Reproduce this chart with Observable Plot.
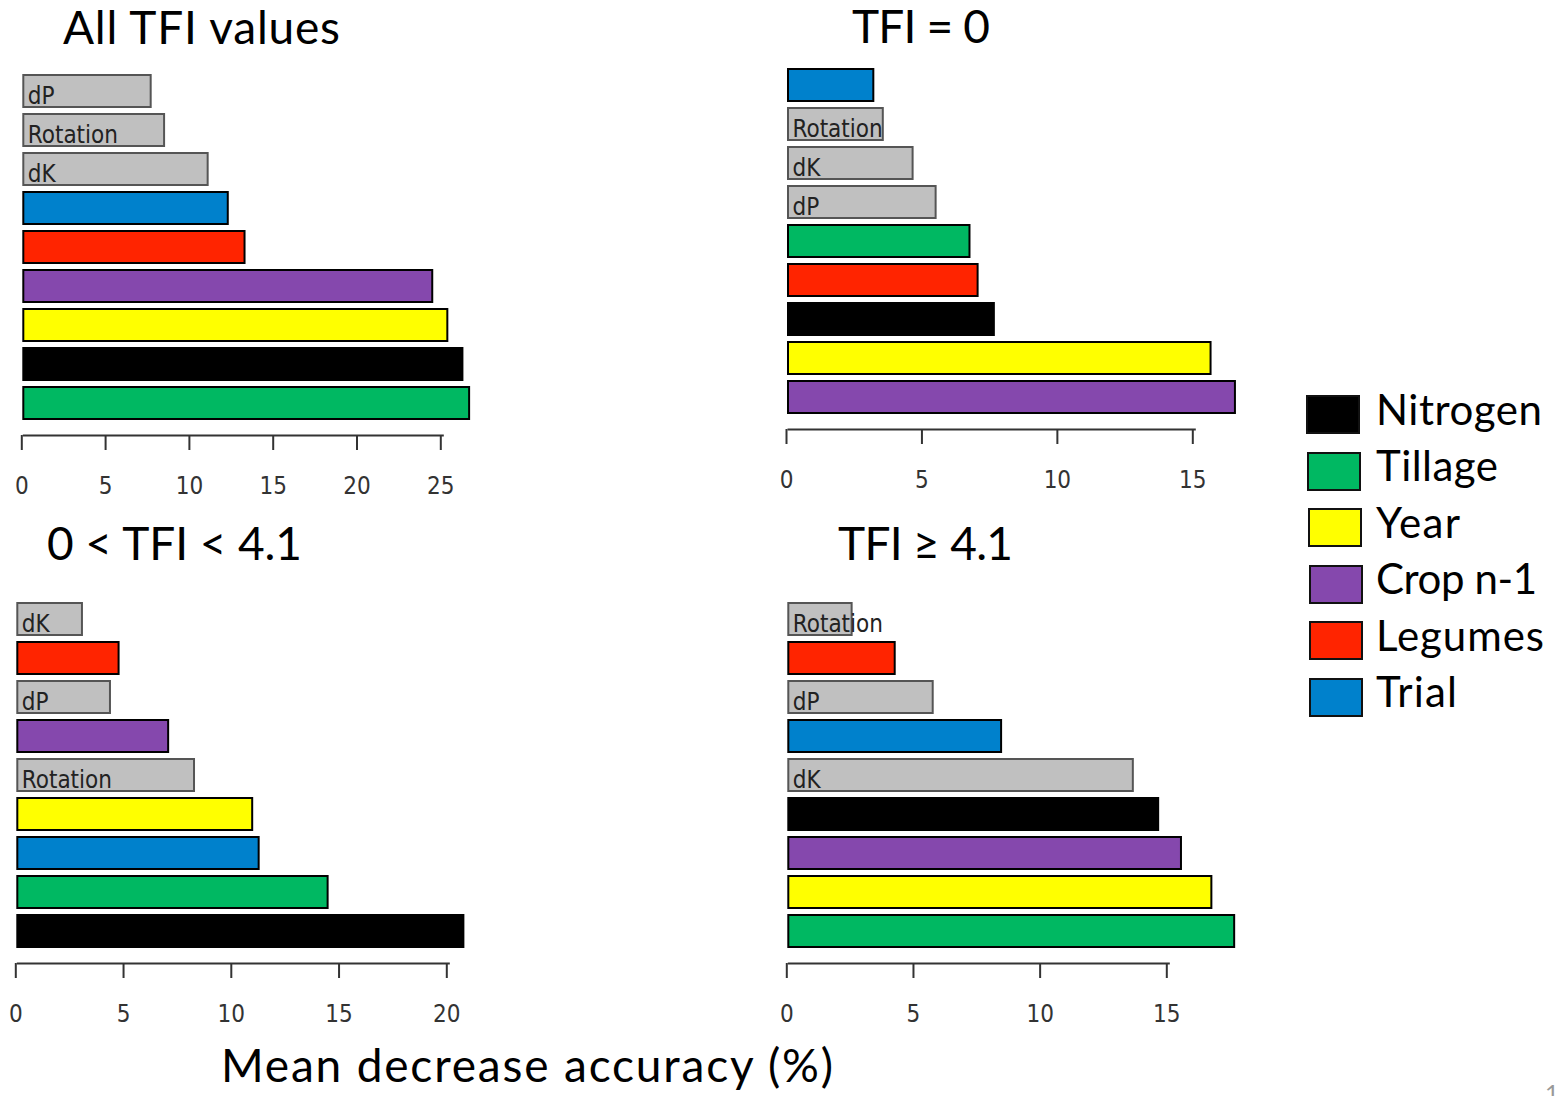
<!DOCTYPE html>
<html>
<head>
<meta charset="utf-8">
<script src="https://cdn.jsdelivr.net/npm/d3@7"></script>
<script src="https://cdn.jsdelivr.net/npm/@observablehq/plot@0.6"></script>
<style>
  body { margin: 0; background: #fff; }
  #root { position: relative; width: 1557px; height: 1096px; overflow: hidden; font-family: Lato, "Open Sans", sans-serif; }
  .txt { position: absolute; white-space: nowrap; line-height: 1; color: #000; }
  .panel { position: absolute; }
  .swatch { position: absolute; box-sizing: border-box; border: 2px solid #111; }
</style>
</head>
<body>
<div id="root"></div>
<script>
// ---------------- data ----------------
const variables = ["Nitrogen", "Tillage", "Year", "Crop n-1", "Legumes", "Trial", "dK", "dP", "Rotation"];
const varColors = ["#000000", "#00b862", "#ffff00", "#8548ad", "#ff2400", "#0081cc", "#c0c0c0", "#c0c0c0", "#c0c0c0"];
const legendVariables = ["Nitrogen", "Tillage", "Year", "Crop n-1", "Legumes", "Trial"];
const grayVariables = ["dK", "dP", "Rotation"];

// values in the order of `variables`
const allTfiValues  = [26.2, 26.6, 25.3, 24.4, 13.2, 12.2, 11.0, 7.6, 8.4];
const tfiZeroValues = [7.6, 6.7, 15.6, 16.5, 7.0, 3.15, 4.6, 5.45, 3.5];
const tfiMidValues  = [20.7, 14.4, 10.9, 7.0, 4.7, 11.2, 3.0, 4.3, 8.2];
const tfiHighValues = [14.6, 17.6, 16.7, 15.5, 4.2, 8.4, 13.6, 5.7, 2.5];

// category order, top to bottom
const allTfiOrder  = ["dP", "Rotation", "dK", "Trial", "Legumes", "Crop n-1", "Year", "Nitrogen", "Tillage"];
const tfiZeroOrder = ["Trial", "Rotation", "dK", "dP", "Tillage", "Legumes", "Nitrogen", "Year", "Crop n-1"];
const tfiMidOrder  = ["dK", "Legumes", "dP", "Crop n-1", "Rotation", "Year", "Trial", "Tillage", "Nitrogen"];
const tfiHighOrder = ["Rotation", "Legumes", "dP", "Trial", "dK", "Nitrogen", "Crop n-1", "Year", "Tillage"];

const allTfiTicks  = [0, 5, 10, 15, 20, 25];
const tfiZeroTicks = [0, 5, 10, 15];
const tfiMidTicks  = [0, 5, 10, 15, 20];
const tfiHighTicks = [0, 5, 10, 15];

const panelTitles = ["All TFI values", "TFI = 0", "0 < TFI < 4.1", "TFI \u2265 4.1"];
const xAxisTitle = "Mean decrease accuracy (%)";

// ---------------- layout ----------------
const root = document.getElementById("root");

function placeText(text, left, baseline, size, targetWidth, extra = {}) {
  const d = document.createElement("div");
  d.className = "txt";
  d.textContent = text;
  d.style.left = left + "px";
  d.style.top = (baseline - 0.887 * size) + "px";
  d.style.fontSize = size + "px";
  Object.assign(d.style, extra);
  root.appendChild(d);
  if (targetWidth) {
    const w = d.getBoundingClientRect().width;
    const n = [...text].length;
    if (n > 1) d.style.letterSpacing = ((targetWidth - w) / (n - 1)) + "px";
  }
  return d;
}

function makePanel(values, order, ticks, box) {
  const data = variables.map((v, i) => ({variable: v, value: values[i]}));
  const colored = data.filter(d => !grayVariables.includes(d.variable));
  const grays = data.filter(d => grayVariables.includes(d.variable));
  const {left, top, width, height, x0, xEnd, barTop, barBottom, axisY} = box;
  const chart = Plot.plot({
    width, height,
    marginLeft: x0 - left,
    marginRight: width - (xEnd - left),
    marginTop: 0,
    marginBottom: height - (axisY - top),
    style: {fontFamily: "'DejaVu Sans Condensed', 'DejaVu Sans', sans-serif", fontSize: "23px", color: "#333", background: "transparent", overflow: "visible"},
    x: {domain: [0, ticks[ticks.length - 1]], label: null},
    y: {domain: order, range: [barTop - top, barBottom - top], paddingInner: 0.19, paddingOuter: 0, axis: null},
    color: {domain: variables, range: varColors},
    marks: [
      Plot.barX(grays, {x: "value", y: "variable", fill: "variable", stroke: "#555", strokeWidth: 2}),
      Plot.barX(colored, {x: "value", y: "variable", fill: "variable", stroke: "#000", strokeWidth: 2}),
      Plot.text(grays, {x: 0, y: "variable", text: "variable", textAnchor: "start", dx: 4, dy: 5, fontSize: 24, fill: "#222"}),
      Plot.axisX({ticks, label: null, tickSize: 15, tickPadding: 26, strokeWidth: 2, stroke: "#333", fill: "#333", fontSize: 24, dx: -2}),
      Plot.frame({anchor: "bottom", stroke: "#333", strokeWidth: 2})
    ]
  });
  chart.classList.add("panel");
  chart.style.left = left + "px";
  chart.style.top = top + "px";
  root.appendChild(chart);
}

makePanel(allTfiValues, allTfiOrder, allTfiTicks,
  {left: 0, top: 60, width: 490, height: 450, x0: 23.3, xEnd: 442.3, barTop: 73, barBottom: 421, axisY: 435});
makePanel(tfiZeroValues, tfiZeroOrder, tfiZeroTicks,
  {left: 770, top: 55, width: 480, height: 450, x0: 788, xEnd: 1194.3, barTop: 67, barBottom: 415, axisY: 429});
makePanel(tfiMidValues, tfiMidOrder, tfiMidTicks,
  {left: 0, top: 590, width: 490, height: 450, x0: 17.3, xEnd: 448.3, barTop: 600, barBottom: 950, axisY: 963});
makePanel(tfiHighValues, tfiHighOrder, tfiHighTicks,
  {left: 770, top: 590, width: 480, height: 450, x0: 788.3, xEnd: 1168.3, barTop: 600, barBottom: 950, axisY: 963});

// titles
placeText(panelTitles[0], 63, 45, 46, 277);
placeText(panelTitles[1], 852, 44, 46, 138);
placeText(panelTitles[2], 47, 561, 46, 255);
placeText(panelTitles[3], 838, 561, 46, 175);
placeText(xAxisTitle, 221, 1083, 46, 612);

// legend
const legendWidths = [166, 122, 84, 161, 168, 81];
legendVariables.forEach((v, i) => {
  const sw = document.createElement("div");
  sw.className = "swatch";
  sw.style.left = (1306 + Math.min(i, 3)) + "px";
  sw.style.top = (395 + i * 56.6) + "px";
  sw.style.width = "54px";
  sw.style.height = "39px";
  sw.style.background = varColors[variables.indexOf(v)];
  root.appendChild(sw);
  placeText(v, 1376, 425 + i * 56.5, 42, legendWidths[i]);
});

// page number
placeText("1", 1545, 1102, 24, null, {color: "#999"});
</script>
</body>
</html>
